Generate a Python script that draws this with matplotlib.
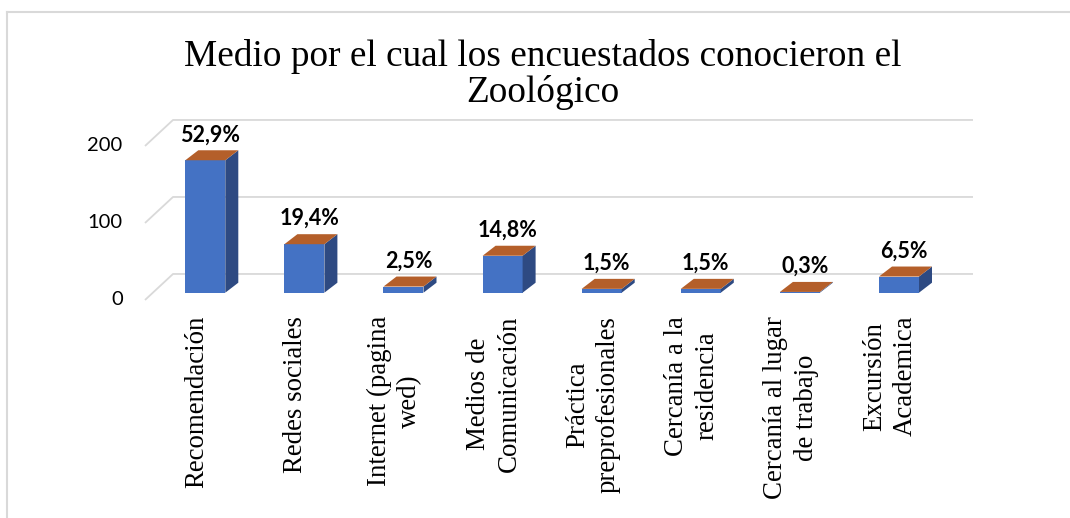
import matplotlib
matplotlib.use("Agg")
import matplotlib.pyplot as plt
from matplotlib.patches import Polygon
from matplotlib.lines import Line2D

# datos de la encuesta
categorias = ["Recomendación", "Redes sociales", "Internet (pagina\nwed)",
              "Medios de\nComunicación", "Práctica\npreprofesionales",
              "Cercanía a la\nresidencia", "Cercanía al lugar\nde trabajo",
              "Excursión\nAcademica"]
cantidades = [172, 63, 8, 48, 5, 5, 1, 21]
etiquetas = ["52,9%", "19,4%", "2,5%", "14,8%", "1,5%", "1,5%", "0,3%", "6,5%"]
ticks_y = [0, 100, 200]
titulo = "Medio por el cual los encuestados conocieron el\nZoológico"

W, H = 1070, 518
fig = plt.figure(figsize=(W / 100, H / 100), dpi=100)
ax = fig.add_axes([0, 0, 1, 1])

# escala: px por categoria y px por unidad
SX = 99.1
SY = 0.77
X0 = 205.3   # px del centro frontal de la primera barra
Y0 = 292.7   # px de la base frontal de las barras
ax.set_xlim((0 - X0) / SX, (W - X0) / SX)
ax.set_ylim((Y0 - H) / SY, Y0 / SY)
ax.axis("off")

px_x = lambda p: p / SX
px_y = lambda p: p / SY

# profundidad del piso/pared y de las barras (proyeccion oblicua)
Dx, Dy = px_x(28), px_y(26)
t0 = 0.28
Bx, By = px_x(13), px_y(10)
ancho = px_x(40)

pared_x = px_x(145 - X0) + t0 * Dx
fin_x = px_x(973 - X0)
gris = "#D9D9D9"

for v in ticks_y:
    xf, yf = pared_x - t0 * Dx, v - t0 * Dy
    xb, yb = pared_x + (1 - t0) * Dx, v + (1 - t0) * Dy
    ax.plot([xf, xb, fin_x], [yf, yb, yb], color=gris, lw=1.3, zorder=1,
            solid_capstyle="butt")
    ax.text(px_x(122.7 - X0), yf, str(v), ha="right", va="center",
            fontsize=14.5, family=["Lato", "DejaVu Sans"], color="#000000")

frente = "#4472C4"
lado = "#2E4A82"
arriba = "#B45F2A"

xs = list(range(len(cantidades)))
ax.bar(xs, cantidades, width=ancho, color=frente, zorder=3)
for i, v in zip(xs, cantidades):
    xr = i + ancho / 2
    xl = i - ancho / 2
    ax.add_patch(Polygon([(xr, 0), (xr + Bx, By), (xr + Bx, v + By), (xr, v)],
                         closed=True, facecolor=lado, edgecolor="none", zorder=3))
    ax.add_patch(Polygon([(xl, v), (xr, v), (xr + Bx, v + By), (xl + Bx, v + By)],
                         closed=True, facecolor=arriba, edgecolor="none", zorder=4))

for i, v, lab in zip(xs, cantidades, etiquetas):
    ax.text(i + px_x(5), v + By + px_y(9), lab, ha="center", va="baseline",
            fontsize=15.5, fontweight="bold", family=["Lato", "DejaVu Sans"],
            zorder=5)

for i, cat in zip(xs, categorias):
    ax.text(i - t0 * Dx - px_x(1), px_y(Y0 - 316), cat, rotation=90,
            ha="center", va="top", multialignment="center", linespacing=1.3,
            fontsize=19.4, family=["Liberation Serif", "DejaVu Serif"])

# va=baseline toma la linea inferior del titulo
fig.text(543 / W, 1 - 102 / H, titulo, ha="center", va="baseline",
         linespacing=1.05, fontsize=26.8,
         family=["Liberation Serif", "DejaVu Serif"])

# borde del area del grafico
fig.add_artist(Line2D([6.5 / W, 1], [1 - 11.5 / H, 1 - 11.5 / H],
                      transform=fig.transFigure, color=gris, lw=1.5))
fig.add_artist(Line2D([6.5 / W, 6.5 / W], [1 - 11.5 / H, 0],
                      transform=fig.transFigure, color=gris, lw=1.5))

fig.savefig("out.png", dpi=100, facecolor="white")
